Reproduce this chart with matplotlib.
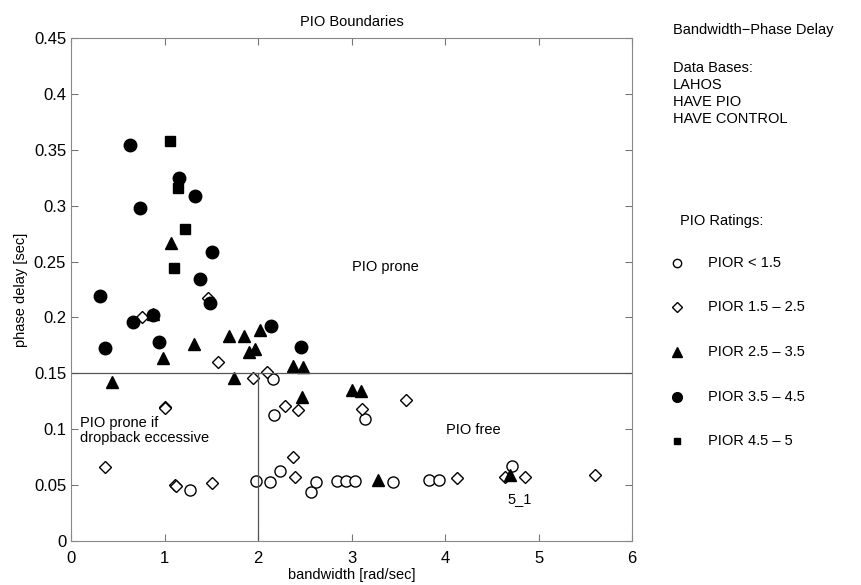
import matplotlib
matplotlib.use("Agg")
import matplotlib.pyplot as plt

plt.rcParams['font.family'] = ['Liberation Sans', 'DejaVu Sans']
plt.rcParams['font.size'] = 10

# PIOR < 1.5 (open circles)
c1_x = [1.27, 1.98, 2.13, 2.23, 2.57, 2.62, 2.84, 2.94, 3.04, 3.44, 3.83, 3.94, 4.72, 2.16, 2.17, 3.14]
c1_y = [0.046, 0.054, 0.053, 0.063, 0.044, 0.053, 0.054, 0.054, 0.054, 0.053, 0.055, 0.055, 0.067, 0.145, 0.113, 0.109]

# PIOR 1.5 - 2.5 (open diamonds)
d_x = [0.36, 1.11, 1.12, 1.51, 2.37, 2.40, 4.13, 4.64, 4.86, 5.60, 1.00, 1.01, 2.29, 2.43, 3.11, 3.58, 1.95, 2.10, 1.57, 0.76, 1.46]
d_y = [0.066, 0.050, 0.049, 0.052, 0.075, 0.057, 0.056, 0.057, 0.057, 0.059, 0.120, 0.119, 0.121, 0.117, 0.118, 0.126, 0.146, 0.151, 0.160, 0.200, 0.217]

# PIOR 2.5 - 3.5 (filled triangles)
t_x = [0.44, 0.98, 0.88, 1.32, 1.07, 1.69, 1.85, 2.02, 1.90, 1.97, 1.74, 2.37, 2.48, 2.47, 3.01, 3.10, 3.28, 4.69]
t_y = [0.142, 0.164, 0.203, 0.176, 0.267, 0.183, 0.183, 0.189, 0.169, 0.172, 0.146, 0.157, 0.156, 0.129, 0.135, 0.134, 0.055, 0.059]

# PIOR 3.5 - 4.5 (filled circles)
c4_x = [0.63, 1.16, 1.33, 0.74, 1.51, 1.38, 0.31, 1.49, 0.66, 0.88, 0.36, 0.94, 2.14, 2.46]
c4_y = [0.354, 0.325, 0.309, 0.298, 0.259, 0.234, 0.219, 0.213, 0.196, 0.202, 0.173, 0.178, 0.192, 0.174]

# PIOR 4.5 - 5 (filled squares)
s_x = [1.06, 1.14, 1.22, 1.10]
s_y = [0.358, 0.316, 0.279, 0.244]

fig = plt.figure(figsize=(8.62, 5.85), dpi=100)
ax = fig.add_axes([0.0824, 0.0752, 0.6508, 0.8598])

ax.plot(c1_x, c1_y, 'o', mfc='white', mec='black', ms=8, mew=1.0, ls='none')
ax.plot(d_x, d_y, 'D', mfc='white', mec='black', ms=6.5, mew=1.0, ls='none')
ax.plot(t_x, t_y, '^', color='black', ms=9, ls='none')
ax.plot(c4_x, c4_y, 'o', color='black', ms=9, ls='none')
ax.plot(s_x, s_y, 's', color='black', ms=6.5, ls='none')

# boundary lines
ax.plot([0, 6], [0.15, 0.15], color='#555555', lw=0.9)
ax.plot([2, 2], [0, 0.15], color='#555555', lw=0.9)

ax.text(3.36, 0.245, 'PIO prone', ha='center', va='center', fontsize=10.5)
ax.text(4.3, 0.099, 'PIO free', ha='center', va='center', fontsize=10.5)
ax.text(0.1, 0.0985, 'PIO prone if\ndropback eccessive', ha='left', va='center',
        linespacing=1.1, fontsize=10.5)
ax.text(4.8, 0.038, '5_1', ha='center', va='center', fontsize=10.5)

ax.set_xlim(0, 6)
ax.set_ylim(0, 0.45)
ax.set_xticks(range(7))
ax.set_yticks([0, 0.05, 0.1, 0.15, 0.2, 0.25, 0.3, 0.35, 0.4, 0.45])
ax.set_yticklabels(['0', '0.05', '0.1', '0.15', '0.2', '0.25', '0.3', '0.35', '0.4', '0.45'])
ax.tick_params(direction='in', top=True, right=True, length=5, color='#777777', labelsize=12)
ax.tick_params(axis='x', pad=7)
for sp in ax.spines.values():
    sp.set_color('#888888')
ax.set_xlabel('bandwidth [rad/sec]', fontsize=10.5, labelpad=1.5)
ax.set_ylabel('phase delay [sec]', fontsize=10.5, labelpad=4)
ax.set_title('PIO Boundaries', fontsize=10.5, pad=8.5)

# side annotations
fig.text(673 / 862, 1 - 30 / 585, 'Bandwidth\u2212Phase Delay', va='center', fontsize=10.5)
fig.text(673 / 862, 1 - 68 / 585, 'Data Bases:', va='center', fontsize=10.5)
fig.text(673 / 862, 1 - 85 / 585, 'LAHOS', va='center', fontsize=10.5)
fig.text(673 / 862, 1 - 102 / 585, 'HAVE PIO', va='center', fontsize=10.5)
fig.text(673 / 862, 1 - 119 / 585, 'HAVE CONTROL', va='center', fontsize=10.5)
fig.text(680 / 862, 1 - 221 / 585, 'PIO Ratings:', va='center', fontsize=10.5)

legend_labels = ['PIOR < 1.5', 'PIOR 1.5 \u2013 2.5', 'PIOR 2.5 \u2013 3.5', 'PIOR 3.5 \u2013 4.5', 'PIOR 4.5 \u2013 5']
legend_marks = [('o', 'white', 6), ('D', 'white', 5), ('^', 'black', 7), ('o', 'black', 7), ('s', 'black', 5)]
legend_rows = [263, 307, 352, 397, 441]
for lab, (m, fc, sz), py in zip(legend_labels, legend_marks, legend_rows):
    fy = 1 - py / 585
    fig.lines.append(plt.Line2D([677 / 862], [fy], marker=m, mfc=fc, mec='black', ms=sz,
                                ls='none', transform=fig.transFigure))
    fig.text(708 / 862, fy, lab, va='center', fontsize=10.5)

fig.savefig('out.png', dpi=100)
